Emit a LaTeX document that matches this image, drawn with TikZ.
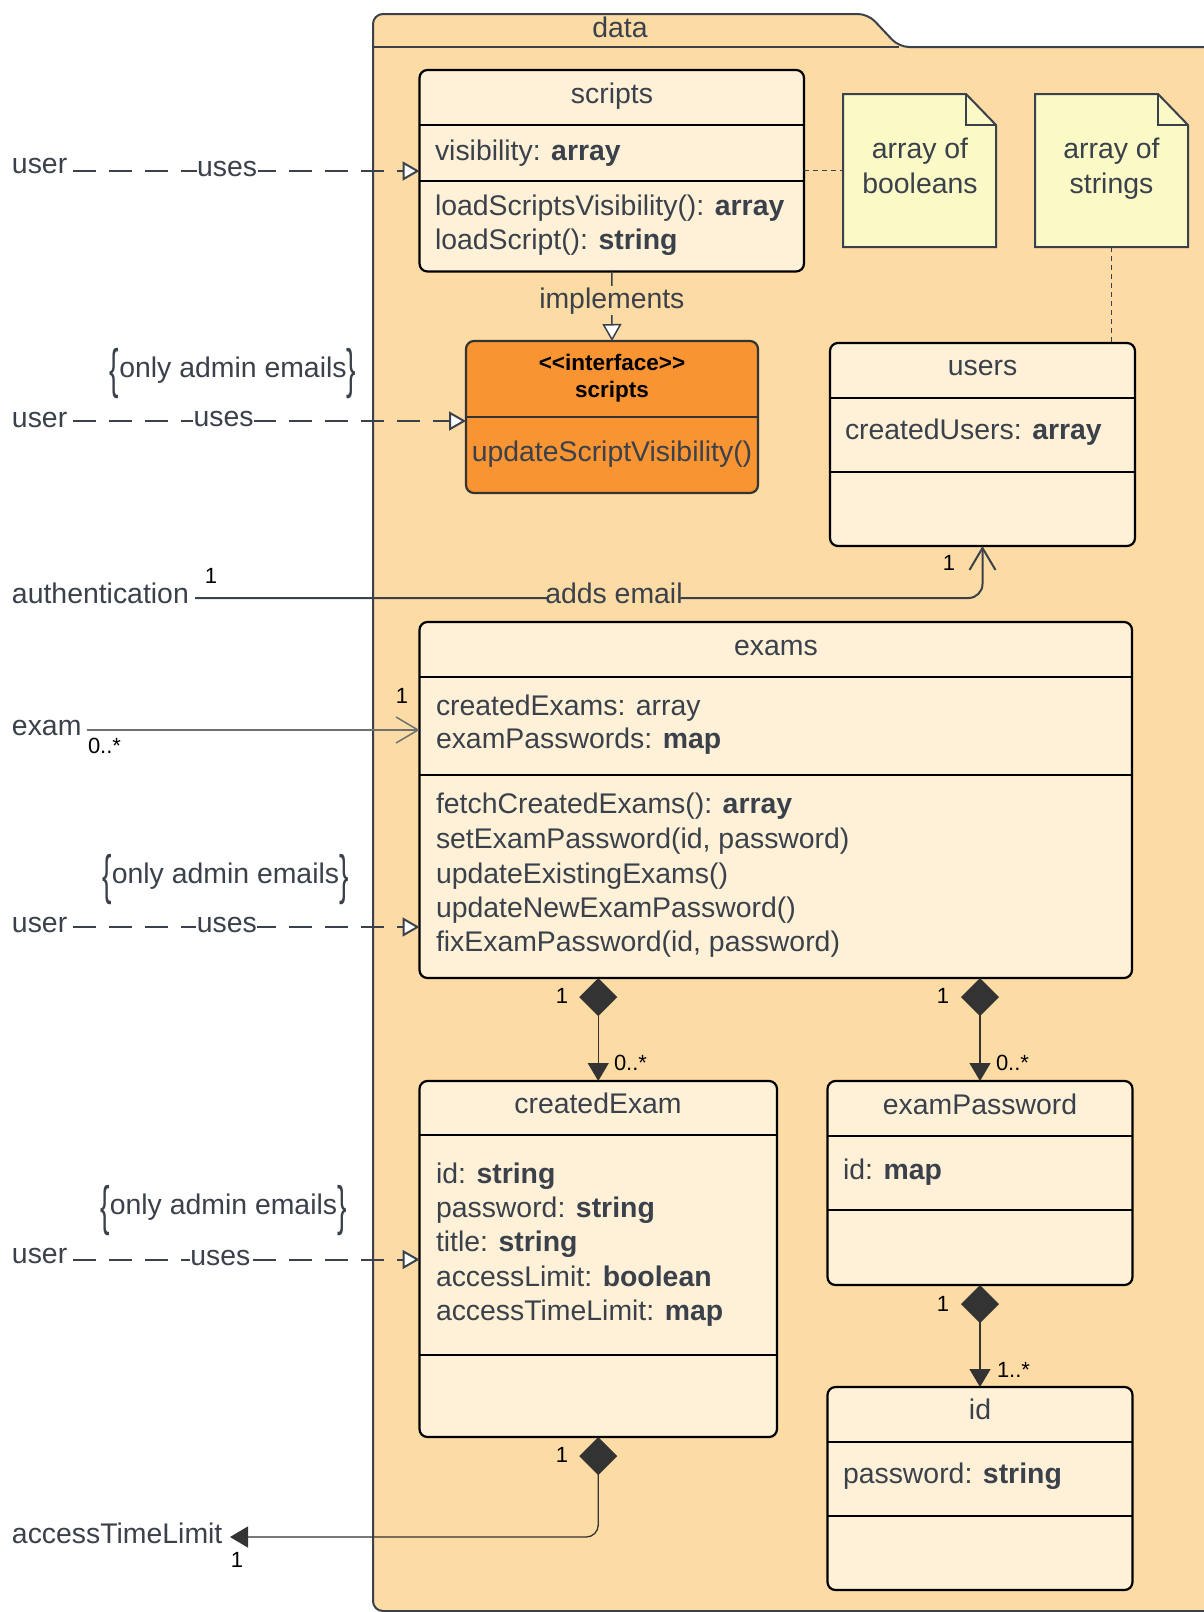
\documentclass[tikz,border=0pt]{standalone}
\usepackage{fontspec}
\setmainfont{Liberation Sans}
\usetikzlibrary{arrows.meta,calc}
\definecolor{pkgfill}{HTML}{FDDBA4}
\definecolor{clsfill}{HTML}{FFF1D8}
\definecolor{notefill}{HTML}{FBF9C6}
\definecolor{ifcfill}{HTML}{F99432}
\definecolor{txt}{HTML}{3A414A}
\definecolor{edge}{HTML}{3A414A}
\definecolor{dk}{HTML}{333333}
\definecolor{lgray}{HTML}{707070}
\newcommand{\mylbr}{\raisebox{-10pt}{\scalebox{1}[1.9]{\{}}}
\newcommand{\myrbr}{\raisebox{-10pt}{\scalebox{1}[1.9]{\}}}}
\begin{document}
\begin{tikzpicture}[x=1pt,y=-1pt,
  font=\fontsize{28.4}{34}\selectfont,
  every node/.style={inner sep=0pt, outer sep=0pt, text=txt},
  cls/.style={draw=black, fill=clsfill, line width=2.2pt, rounded corners=8pt, anchor=north west},
  ifc/.style={draw=dk, fill=ifcfill, line width=2.2pt, rounded corners=8pt, anchor=north west},
  div/.style={draw=black, line width=2.2pt},
  note/.style={draw=edge, fill=notefill, line width=2pt, line join=miter},
  notelink/.style={draw=edge, line width=1.2pt, dash pattern=on 5pt off 4pt},
  mult/.style={font=\fontsize{22}{26}\selectfont, text=black},
  usesline/.style={draw=edge, line width=2pt, dash pattern=on 23pt off 13pt, -{Triangle[length=17pt,width=19pt,fill=white]}},
  lbl/.style={fill=white, inner sep=0.5pt, yshift=2pt},
  impl/.style={draw=edge, line width=1.5pt, -{Triangle[length=17pt,width=19pt,fill=white]}},
  assoc/.style={draw=edge, line width=2pt, -{Straight Barb[length=22pt,width=26pt]}},
  examline/.style={draw=lgray, line width=1.5pt, -{Straight Barb[length=22pt,width=26pt]}},
  comp/.style={draw=dk, line width=1.3pt, {Diamond[length=38pt,width=38pt]}-{Triangle[length=18pt,width=21pt]}},
  ifctitle/.style={font=\fontsize{22.5}{26}\selectfont\bfseries, text=black}
]
\useasboundingbox (0,0) rectangle (1204,1612);
\clip (0,0) rectangle (1204,1612);
\fill[white] (0,0) rectangle (1204,1612);

% package
\filldraw[fill=pkgfill, draw=edge, line width=2pt, rounded corners=10pt]
  (373,1611) -- (373,14) -- (868,14) -- (899,47) -- (1260,47) -- (1260,1611) -- cycle;
\draw[edge, line width=2pt] (373,47) -- (899,47);
\node[anchor=base] (pkgname) at (620,37) {data};

% notes
\node[anchor=north west, minimum width=153pt, minimum height=153pt] (nb) at (843,94) {};
\filldraw[note] (nb.north west) -- ($(nb.north east)+(-30,0)$) -- ($(nb.north east)+(0,31)$) -- (nb.south east) -- (nb.south west) -- cycle;
\draw[note, fill=none] ($(nb.north east)+(-30,0)$) -- ($(nb.north east)+(-30,31)$) -- ($(nb.north east)+(0,31)$);
\node[anchor=base] (nb1) at (920,158) {array of};
\node[anchor=base] (nb2) at (920,193) {booleans};

\node[anchor=north west, minimum width=153pt, minimum height=153pt] (ns) at (1035,94) {};
\filldraw[note] (ns.north west) -- ($(ns.north east)+(-30,0)$) -- ($(ns.north east)+(0,31)$) -- (ns.south east) -- (ns.south west) -- cycle;
\draw[note, fill=none] ($(ns.north east)+(-30,0)$) -- ($(ns.north east)+(-30,31)$) -- ($(ns.north east)+(0,31)$);
\node[anchor=base] (ns1) at (1111.5,158) {array of};
\node[anchor=base] (ns2) at (1111.5,193) {strings};

% scripts class
\node[cls, minimum width=384.5pt, minimum height=201.5pt] (scripts) at (419.5,70) {};
\draw[div] (419.5,125) -- (804,125);
\draw[div] (419.5,181) -- (804,181);
\node[anchor=base] (scriptsT) at (612,103) {scripts};
\node[anchor=base west] (scriptsA) at (435,160) {visibility: \textbf{array}};
\node[anchor=base west] (scriptsM1) at (435,215) {loadScriptsVisibility(): \textbf{array}};
\node[anchor=base west] (scriptsM2) at (435,249) {loadScript(): \textbf{string}};

% interface
\node[ifc, minimum width=292pt, minimum height=152pt] (ifc) at (466,341) {};
\draw[div, draw=dk] (466,417) -- (758,417);
\node[ifctitle, anchor=base] (ifcS) at (612,370) {{<}{<}interface{>}{>}};
\node[ifctitle, anchor=base] (ifcN) at (612,397) {scripts};
\node[anchor=base] (ifcM) at (612,461) {updateScriptVisibility()};

% users
\node[cls, minimum width=305pt, minimum height=203pt] (users) at (830,343) {};
\draw[div] (830,398) -- (1135,398);
\draw[div] (830,472) -- (1135,472);
\node[anchor=base] (usersT) at (982.5,375) {users};
\node[anchor=base west] (usersA) at (845,439) {createdUsers: \textbf{array}};

% exams
\node[cls, minimum width=712.5pt, minimum height=356pt] (exams) at (419.5,622) {};
\draw[div] (419.5,677) -- (1132,677);
\draw[div] (419.5,775) -- (1132,775);
\node[anchor=base] (examsT) at (776,655) {exams};
\node[anchor=base west] (examsA1) at (436,715) {createdExams: array};
\node[anchor=base west] (examsA2) at (436,748) {examPasswords: \textbf{map}};
\node[anchor=base west] (examsM1) at (436,813) {fetchCreatedExams(): \textbf{array}};
\node[anchor=base west] (examsM2) at (436,848) {setExamPassword(id, password)};
\node[anchor=base west] (examsM3) at (436,883) {updateExistingExams()};
\node[anchor=base west] (examsM4) at (436,917) {updateNewExamPassword()};
\node[anchor=base west] (examsM5) at (436,951) {fixExamPassword(id, password)};

% createdExam
\node[cls, minimum width=357.5pt, minimum height=356pt] (ce) at (419.5,1081) {};
\draw[div] (419.5,1135) -- (777,1135);
\draw[div] (419.5,1355) -- (777,1355);
\node[anchor=base] (ceT) at (598,1113) {createdExam};
\node[anchor=base west] (ceA1) at (436,1183) {id: \textbf{string}};
\node[anchor=base west] (ceA2) at (436,1217) {password: \textbf{string}};
\node[anchor=base west] (ceA3) at (436,1251.5) {title: \textbf{string}};
\node[anchor=base west] (ceA4) at (436,1286) {accessLimit: \textbf{boolean}};
\node[anchor=base west] (ceA5) at (436,1320) {accessTimeLimit: \textbf{map}};

% examPassword
\node[cls, minimum width=305pt, minimum height=204pt] (ep) at (827.5,1081) {};
\draw[div] (827.5,1136) -- (1132.5,1136);
\draw[div] (827.5,1210) -- (1132.5,1210);
\node[anchor=base] (epT) at (980,1114) {examPassword};
\node[anchor=base west] (epA) at (843,1179) {id: \textbf{map}};

% id
\node[cls, minimum width=305pt, minimum height=203pt] (idc) at (827.5,1387) {};
\draw[div] (827.5,1442) -- (1132.5,1442);
\draw[div] (827.5,1516) -- (1132.5,1516);
\node[anchor=base] (idT) at (980,1419) {id};
\node[anchor=base west] (idA) at (843,1483) {password: \textbf{string}};

% note links
\draw[notelink] (scripts.east |- nb.west) -- (nb.west);
\draw[notelink] (ns.south) -- (ns.south |- users.north);

% implements
\draw[impl] (scripts.south) -- node[pos=0.42, fill=pkgfill, inner sep=1pt] (implL) {implements} (ifc.north);

% users -> classes (uses)
\node[anchor=base west] (user1) at (12,173) {user};
\coordinate (u1) at (73,171);
\draw[usesline] (u1) -- node[lbl, pos=0.445] (uses1) {uses} (u1 -| scripts.west);

\node[anchor=base] (adm1) at (233,377) {\mylbr only admin emails\myrbr};
\node[anchor=base west] (user2) at (12,427) {user};
\coordinate (u2) at (73,421);
\draw[usesline] (u2) -- node[lbl, pos=0.383] (uses2) {uses} (u2 -| ifc.west);

\node[anchor=base] (adm2) at (225.5,883) {\mylbr only admin emails\myrbr};
\node[anchor=base west] (user3) at (12,932) {user};
\coordinate (u3) at (73,927);
\draw[usesline] (u3) -- node[lbl, pos=0.444] (uses3) {uses} (u3 -| exams.west);

\node[anchor=base] (adm3) at (223.5,1214) {\mylbr only admin emails\myrbr};
\node[anchor=base west] (user4) at (12,1263) {user};
\coordinate (u4) at (73,1259.5);
\draw[usesline] (u4) -- node[lbl, pos=0.425] (uses4) {uses} (u4 -| ce.west);

% authentication
\node[anchor=base west] (auth) at (12,603) {authentication};
\coordinate (a0) at (195,598);
\draw[assoc, rounded corners=14pt] (a0) -- node[pos=0.532, fill=pkgfill, inner sep=0.5pt, yshift=5pt] (addsL) {adds email} (a0 -| users.south) -- (users.south);
\node[mult, anchor=base] (authM1) at (211,583) {1};
\node[mult, anchor=base] (authM2) at (949,570) {1};

% exam
\node[anchor=base west] (exam) at (12,735) {exam};
\coordinate (e0) at (87,730);
\draw[examline] (e0) -- (e0 -| exams.west);
\node[mult, anchor=base] (examM1) at (402,703) {1};
\node[mult, anchor=base west] (examM2) at (88,753) {0..*};

% compositions
\draw[comp] (exams.south -| ce.north) -- (ce.north);
\node[mult, anchor=base] (c1a) at (562,1003) {1};
\node[mult, anchor=base west] (c1b) at (614,1070) {0..*};

\draw[comp] (exams.south -| ep.north) -- (ep.north);
\node[mult, anchor=base] (c2a) at (943,1003) {1};
\node[mult, anchor=base west] (c2b) at (996,1070) {0..*};

\draw[comp] (ep.south) -- (idc.north);
\node[mult, anchor=base] (c3a) at (943,1311) {1};
\node[mult, anchor=base west] (c3b) at (997,1377) {1..*};

\node[anchor=base west] (atl) at (12,1543) {accessTimeLimit};
\coordinate (atlTip) at (230,1537);
\draw[comp, rounded corners=12pt] (ce.south) -- (ce.south |- atlTip) -- (atlTip);
\node[mult, anchor=base] (c4a) at (562,1462) {1};
\node[mult, anchor=base] (c4b) at (237,1567) {1};
\end{tikzpicture}
\end{document}
